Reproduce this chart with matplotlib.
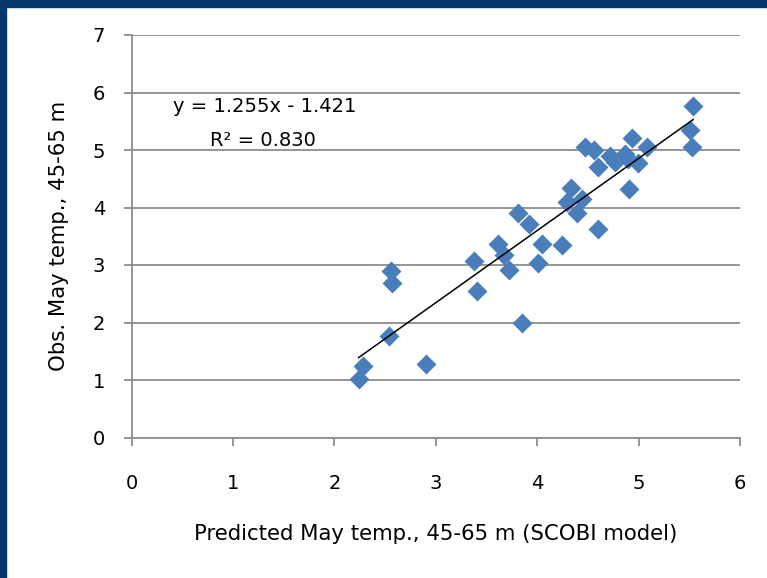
import matplotlib
matplotlib.use("Agg")
import matplotlib.pyplot as plt
from matplotlib.patches import Rectangle
import numpy as np

# predicted vs observed May temperature, 45-65 m layer
PRED = [5.538, 5.508, 5.528, 4.472, 4.562, 4.935, 5.086, 4.723, 4.764, 4.864,
        4.895, 4.995, 4.603, 4.905, 4.331, 4.291, 4.442, 4.392, 4.603, 3.808,
        3.919, 4.050, 4.241, 4.009, 3.617, 3.677, 3.718, 3.376, 3.406, 3.848,
        2.561, 2.571, 2.541, 2.903, 2.279, 2.239]
OBS = [5.77, 5.35, 5.05, 5.05, 5.00, 5.21, 5.06, 4.90, 4.79, 4.93,
       4.85, 4.77, 4.70, 4.33, 4.34, 4.10, 4.14, 3.90, 3.63, 3.90,
       3.71, 3.37, 3.34, 3.04, 3.37, 3.17, 2.91, 3.07, 2.54, 1.99,
       2.90, 2.69, 1.77, 1.27, 1.25, 1.02]

SLOPE = 1.255
INTERCEPT = -1.421
R2 = 0.830

X_TICKS = [0, 1, 2, 3, 4, 5, 6]
Y_TICKS = [0, 1, 2, 3, 4, 5, 6, 7]

GREY = "#8c8c8c"
NAVY = "#06376a"

fig = plt.figure(figsize=(7.67, 5.78), dpi=100)
# navy frame along the top and left edge
fig.patches.append(Rectangle((0, 1 - 7 / 578), 1, 7 / 578, transform=fig.transFigure,
                             color=NAVY, zorder=10))
fig.patches.append(Rectangle((0, 0), 6 / 767, 1, transform=fig.transFigure,
                             color=NAVY, zorder=10))

ax = fig.add_axes([131.5 / 767, 140.5 / 578, 608.5 / 767, 402.5 / 578])
ax.set_xlim(0, 6)
ax.set_ylim(0, 7)
ax.set_xticks(X_TICKS)
ax.set_yticks(Y_TICKS)
ax.grid(axis="y", color=GREY, lw=1.3, zorder=0)
ax.set_axisbelow(True)
for side in ("top", "right"):
    ax.spines[side].set_visible(False)
for side in ("left", "bottom"):
    ax.spines[side].set_color(GREY)
    ax.spines[side].set_linewidth(1.3)
ax.tick_params(colors=GREY, width=1.3, length=6, labelcolor="black", labelsize=14)
ax.tick_params(axis="y", pad=13)
ax.tick_params(axis="x", pad=20)

ax.plot(PRED, OBS, "D", color="#4a7ebb", ms=10, mec="none", zorder=3)

# trend line over the range of the predictions
xs = np.array([min(PRED), max(PRED)])
ax.plot(xs, SLOPE * xs + INTERCEPT, color="black", lw=1.1, zorder=4)

ax.text(1.31, 5.75, f"y = {SLOPE:.3f}x - {abs(INTERCEPT):.3f}", fontsize=14,
        ha="center", va="center")
ax.text(1.30, 5.17, f"R² = {R2:.3f}", fontsize=14, ha="center", va="center")

ax.set_xlabel("Predicted May temp., 45-65 m (SCOBI model)", fontsize=15.3, va="center")
ax.xaxis.set_label_coords(0.5, -0.2398)
ax.set_ylabel("Obs. May temp., 45-65 m", fontsize=15.3, va="center")
ax.yaxis.set_label_coords(-0.119, 0.5)

fig.savefig("out.png", dpi=100)
